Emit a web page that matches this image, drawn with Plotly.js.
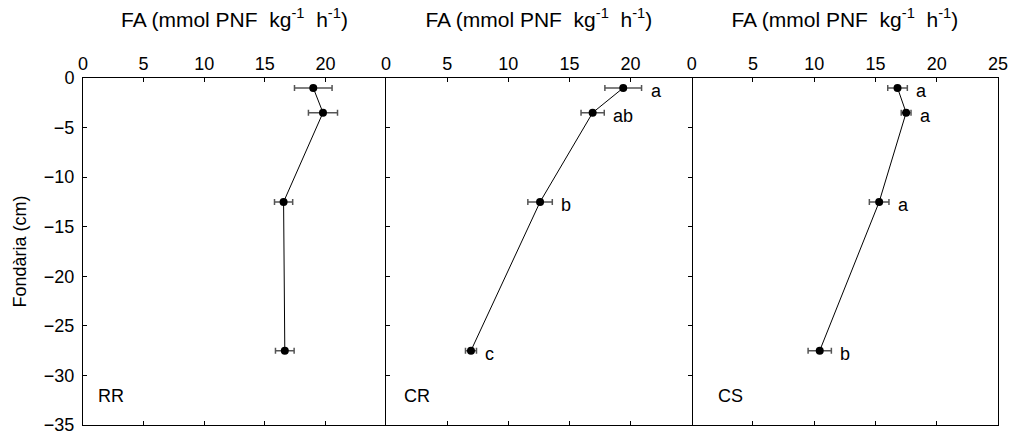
<!DOCTYPE html>
<html>
<head>
<meta charset="utf-8">
<script src="https://cdn.plot.ly/plotly-3.0.1.min.js"></script>
<style>html,body{margin:0;padding:0;background:#fff;}</style>
</head>
<body>
<div id="chart" style="width:1011px;height:437px;"></div>
<script>
// Depths (cm)
const depth = [-1, -3.5, -12.5, -27.5];
// RR
const rrFA  = [19.0, 19.8, 16.55, 16.65];
const rrErr = [1.55, 1.2, 0.75, 0.77];
const rrLetters = ['', '', '', ''];
// CR
const crFA  = [19.4, 16.9, 12.6, 6.95];
const crErr = [1.5, 0.95, 1.0, 0.45];
const crLetters = ['a', 'ab', 'b', 'c'];
// CS
const csFA  = [16.8, 17.5, 15.3, 10.45];
const csErr = [0.8, 0.4, 0.8, 0.95];
const csLetters = ['a', 'a', 'a', 'b'];

const panelNames = ['RR', 'CR', 'CS'];
const xTicks12 = [0, 5, 10, 15, 20];
const xTicks3 = [0, 5, 10, 15, 20, 25];
const xTitle = 'FA (mmol PNF  kg<sup>-1</sup>  h<sup>-1</sup>)';
const yTitle = 'Fondària (cm)';

const FONT = 'Liberation Sans, Arial, Helvetica, sans-serif';

function series(x, err, xa, ya) {
  return {
    type: 'scatter', mode: 'lines+markers',
    x: x, y: depth, xaxis: xa, yaxis: ya,
    line: {color: '#000', width: 1},
    marker: {color: '#000', size: 8},
    error_x: {type: 'data', array: err, visible: true, color: '#555', thickness: 1.5, width: 3},
    showlegend: false, hoverinfo: 'x+y'
  };
}

const data = [
  series(rrFA, rrErr, 'x', 'y'),
  series(crFA, crErr, 'x2', 'y2'),
  series(csFA, csErr, 'x3', 'y3')
];

const annotations = [];
function letters(vals, errs, labs, xr, yr) {
  labs.forEach((t, i) => {
    if (!t) return;
    annotations.push({
      x: vals[i] + errs[i], y: depth[i], xref: xr, yref: yr,
      text: t, showarrow: false, xanchor: 'left', yanchor: 'middle',
      xshift: 7, yshift: -3,
      font: {family: FONT, size: 18, color: '#000'}
    });
  });
}
letters(rrFA, rrErr, rrLetters, 'x', 'y');
letters(crFA, crErr, crLetters, 'x2', 'y2');
letters(csFA, csErr, csLetters, 'x3', 'y3');

const panelX = [0.043, 0.051, 0.079];
['x', 'x2', 'x3'].forEach((xr, i) => {
  annotations.push({
    x: panelX[i], y: 0.083, xref: xr + ' domain', yref: 'y' + (i ? i + 1 : '') + ' domain',
    text: panelNames[i], showarrow: false, xanchor: 'left', yanchor: 'middle',
    font: {family: FONT, size: 18, color: '#000'}
  });
});

const d1 = (386 - 83) / 915, d2 = (691.7 - 83) / 915;

function xa(dom, anchor, ticks) {
  return {
    domain: dom, anchor: anchor, side: 'top', range: [0, 25],
    tickvals: ticks, ticktext: ticks.map(String),
    ticks: 'inside', ticklen: 4, tickwidth: 1, tickcolor: '#000',
    showline: true, linecolor: '#000', linewidth: 1, mirror: 'ticks',
    showgrid: false, zeroline: false,
    tickfont: {family: FONT, size: 18, color: '#000'},
    title: {text: xTitle, standoff: 20, font: {family: FONT, size: 21, color: '#000'}}
  };
}
function ya(anchor, labels, ticks, mirror, side) {
  return {
    anchor: anchor, side: side || 'left', range: [-35, 0], tickvals: [0, -5, -10, -15, -20, -25, -30, -35],
    showticklabels: labels, ticks: ticks, ticklen: 4, tickwidth: 1, tickcolor: '#000',
    showline: true, linecolor: '#000', linewidth: 1, mirror: mirror,
    showgrid: false, zeroline: false,
    tickfont: {family: FONT, size: 18, color: '#000'}
  };
}

const layout = {
  width: 1011, height: 437,
  margin: {l: 83, r: 13, t: 78, b: 12},
  paper_bgcolor: '#fff', plot_bgcolor: '#fff',
  font: {family: FONT, color: '#000'},
  xaxis: xa([0, d1], 'y', xTicks12),
  xaxis2: xa([d1, d2], 'y2', xTicks12),
  xaxis3: xa([d2, 1], 'y3', xTicks3),
  yaxis: Object.assign(ya('x', true, 'inside', false), {
    ticklabelstandoff: 4,
    title: {text: yTitle, standoff: 12, font: {family: FONT, size: 18, color: '#000'}}
  }),
  yaxis2: ya('x2', false, 'inside', 'ticks'),
  yaxis3: ya('x3', false, '', false, 'right'),
  annotations: annotations
};

Plotly.newPlot('chart', data, layout, {displayModeBar: false, staticPlot: true});
</script>
</body>
</html>
